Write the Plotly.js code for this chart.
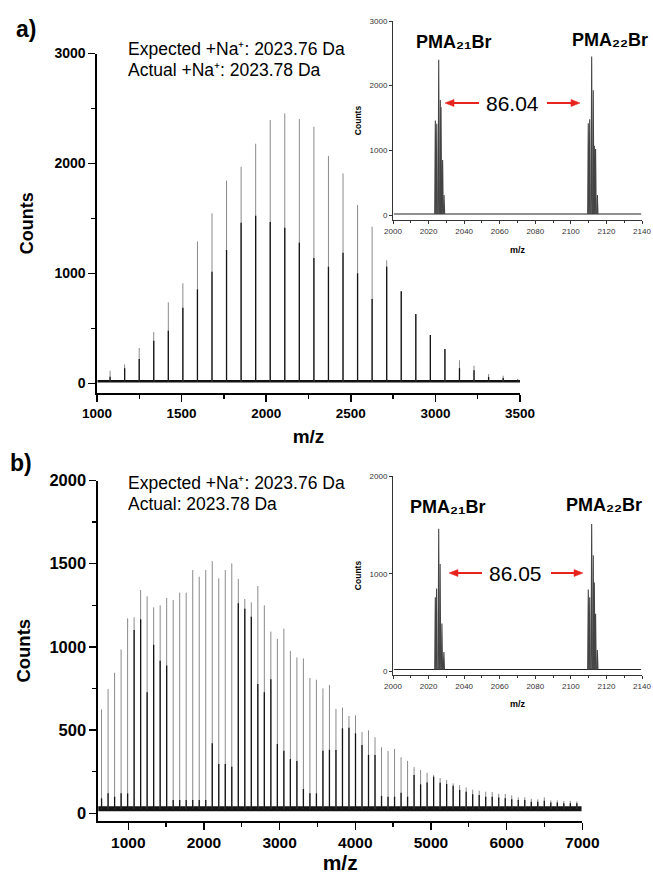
<!DOCTYPE html>
<html><head><meta charset="utf-8">
<script src="https://cdn.plot.ly/plotly-3.0.1.min.js"></script>
<style>html,body{margin:0;padding:0;background:#fff}#chart{width:653px;height:874px}</style>
</head><body><div id="chart"></div>
<script>
// ---------- Panel a: main spectrum (peak m/z, peak top counts, overlapped dark part) ----------
const massA = [1077.3,1163.4,1249.4,1335.4,1421.5,1507.5,1593.6,1679.6,1765.6,1851.7,1937.7,2023.8,2109.8,2195.8,2281.9,2367.9,2454.0,2540.0,2626.0,2712.1,2798.1,2884.2,2970.2,3056.2,3142.3,3228.3,3314.4,3400.4,3486.4];
const topA  = [116,174,323,468,738,911,1292,1547,1844,1971,2180,2395,2456,2404,2334,2068,1910,1623,1425,1120,838,632,441,314,211,162,86,71,40];
const darkA = [62,138,222,389,480,689,856,1017,1214,1462,1525,1468,1417,1280,1141,1062,1189,1002,768,1062,838,632,441,314,140,120,60,50,35];
const baseA_x = [1003, 3500];
const baseA_y = [20, 20];

// ---------- Panel a: inset (isotope clusters) ----------
const insetA_mz = [2023.8,2024.6,2025.7,2026.6,2027.0,2027.9,2028.7,2109.8,2110.6,2111.7,2112.6,2113.2,2113.9,2114.9];
const insetA_ct = [1460,1410,2400,1780,1670,850,310,1420,1480,2450,1930,1070,1020,310];
const insetBaseA_x = [2000.5, 2139.5];
const insetBaseA_y = [15, 15];

// ---------- Panel b: main spectrum ----------
const massB = [647.1,733.2,819.2,905.2,991.3,1077.3,1163.4,1249.4,1335.4,1421.5,1507.5,1593.6,1679.6,1765.6,1851.7,1937.7,2023.8,2109.8,2195.8,2281.9,2367.9,2454.0,2540.0,2626.0,2712.1,2798.1,2884.2,2970.2,3056.2,3142.3,3228.3,3314.4,3400.4,3486.4,3572.5,3658.5,3744.6,3830.6,3916.6,4002.7,4088.7,4174.8,4260.8,4346.8,4432.9,4518.9,4605.0,4691.0,4777.0,4863.1,4949.1,5035.2,5121.2,5207.2,5293.3,5379.3,5465.4,5551.4,5637.4,5723.5,5809.5,5895.6,5981.6,6067.6,6153.7,6239.7,6325.8,6411.8,6497.8,6583.9,6669.9,6756.0,6842.0,6928.0];
const topB = [625,747,845,985,1172,1178,1342,1304,1238,1250,1294,1282,1326,1326,1462,1422,1462,1516,1412,1462,1502,1408,1288,1268,1366,1250,1092,1048,1110,975,937,931,813,803,751,771,628,636,585,589,489,499,457,397,375,387,337,315,278,260,244,230,212,200,180,170,156,142,136,130,128,118,116,108,96,96,88,84,96,78,78,74,74,72];
const darkB = [90,120,100,120,120,1102,1166,727,1013,917,889,80,80,80,80,80,80,421,296,296,280,1262,1230,1182,777,727,805,417,376,326,314,146,120,120,376,382,380,511,515,481,411,351,351,104,100,100,124,100,230,174,186,220,184,176,166,140,130,114,110,100,100,95,90,85,80,80,70,70,75,65,65,60,60,60];
const baseB_x = [604, 6990];
const baseB_y = [28, 28];

// ---------- Panel b: inset ----------
const insetB_mz = [2023.8,2024.5,2025.7,2026.5,2027.5,2028.6,2109.8,2110.6,2111.7,2112.6,2113.2,2113.9,2114.9];
const insetB_ct = [760,850,1460,1100,490,200,840,760,1510,1190,910,590,220];
const insetBaseB_x = [2000.5, 2139.5];
const insetBaseB_y = [20, 20];

// ---------- helpers ----------
const W = 653, H = 874;
const X = p => p / W, Y = p => 1 - p / H;
const FONT = 'Liberation Sans, Arial, sans-serif';

function spikes(xs, ys, base) {
  const x = [], y = [];
  xs.forEach((m, i) => { x.push(m, m, null); y.push(base, ys[i], null); });
  return {x, y};
}
function tri(xs, ys, base, hw) {
  const x = [], y = [];
  xs.forEach((m, i) => { x.push(m - hw, m, m + hw, null); y.push(base, ys[i], base, null); });
  return {x, y};
}

const sA1 = spikes(massA, topA, 20), sA2 = spikes(massA, darkA, 20);
const sB1 = spikes(massB, topB, 28), sB2 = spikes(massB, darkB, 28);
const iA = tri(insetA_mz, insetA_ct, 15, 0.35);
const iB = tri(insetB_mz, insetB_ct, 20, 0.35);

const traces = [
  {x: baseA_x, y: baseA_y, xaxis: 'x', yaxis: 'y', mode: 'lines', line: {color: '#111', width: 2.5}, hoverinfo: 'skip'},
  {x: sA1.x, y: sA1.y, xaxis: 'x', yaxis: 'y', mode: 'lines', line: {color: '#8a8a8a', width: 1}, connectgaps: false},
  {x: sA2.x, y: sA2.y, xaxis: 'x', yaxis: 'y', mode: 'lines', line: {color: '#151515', width: 1.3}, connectgaps: false},
  {x: insetBaseA_x, y: insetBaseA_y, xaxis: 'x2', yaxis: 'y2', mode: 'lines', line: {color: '#222', width: 1.1}},
  {x: iA.x, y: iA.y, xaxis: 'x2', yaxis: 'y2', mode: 'lines', line: {color: '#444', width: 1.1}, connectgaps: false},
  {x: baseB_x, y: baseB_y, xaxis: 'x3', yaxis: 'y3', mode: 'lines', line: {color: '#151515', width: 5}},
  {x: sB1.x, y: sB1.y, xaxis: 'x3', yaxis: 'y3', mode: 'lines', line: {color: '#8a8a8a', width: 1}, connectgaps: false},
  {x: sB2.x, y: sB2.y, xaxis: 'x3', yaxis: 'y3', mode: 'lines', line: {color: '#151515', width: 1.3}, connectgaps: false},
  {x: insetBaseB_x, y: insetBaseB_y, xaxis: 'x4', yaxis: 'y4', mode: 'lines', line: {color: '#222', width: 1.1}},
  {x: iB.x, y: iB.y, xaxis: 'x4', yaxis: 'y4', mode: 'lines', line: {color: '#444', width: 1.1}, connectgaps: false}
];

function mainAxis(o) {
  return Object.assign({
    showline: true, linecolor: '#000', linewidth: 1.6, ticks: 'outside', ticklen: 7, tickwidth: 1.5, tickcolor: '#000',
    showgrid: false, zeroline: false, fixedrange: true,
    tickfont: {family: FONT, size: 14, color: '#000', weight: 700}
  }, o);
}
function insetAxis(o) {
  return Object.assign({
    showline: true, linecolor: '#333', linewidth: 1, ticks: 'outside', ticklen: 3, tickwidth: 1, tickcolor: '#333',
    showgrid: false, zeroline: false, fixedrange: true,
    tickfont: {family: FONT, size: 8, color: '#333'}
  }, o);
}

const layout = {
  width: W, height: H, margin: {l: 0, r: 0, t: 0, b: 0}, showlegend: false,
  paper_bgcolor: '#fff', plot_bgcolor: 'rgba(0,0,0,0)',
  font: {family: FONT, color: '#000'},
  xaxis: mainAxis({domain: [X(97), X(520)], range: [1000, 3500], anchor: 'y', tick0: 1000, dtick: 500,
    minor: {ticks: 'outside', ticklen: 4, dtick: 250, tickwidth: 1.3, tickcolor: '#000'},
    tickfont: {family: FONT, size: 13.5, color: '#000', weight: 700},
    title: {text: 'm/z', font: {family: FONT, size: 19, weight: 700}, standoff: 10}}),
  yaxis: mainAxis({domain: [Y(393), Y(53.5)], range: [-86, 3000], anchor: 'x', tick0: 0, dtick: 1000,
    minor: {ticks: 'outside', ticklen: 4, dtick: 500, tickwidth: 1.3, tickcolor: '#000'},
    title: {text: 'Counts', font: {family: FONT, size: 18, weight: 700}, standoff: 16}}),
  xaxis2: insetAxis({domain: [X(393), X(642)], range: [2000, 2140], anchor: 'y2', tick0: 2000, dtick: 20,
    minor: {ticks: 'outside', ticklen: 2, dtick: 10, tickcolor: '#333'},
    title: {text: 'm/z', font: {family: FONT, size: 9, weight: 700}, standoff: 12}}),
  yaxis2: insetAxis({domain: [Y(220), Y(21)], range: [-77, 3000], anchor: 'x2', tick0: 0, dtick: 1000,
    title: {text: 'Counts', font: {family: FONT, size: 8.5, weight: 700}, standoff: 6}}),
  xaxis3: mainAxis({domain: [X(98), X(582.3)], range: [600, 7000], anchor: 'y3', tick0: 0, dtick: 1000,
    minor: {ticks: 'outside', ticklen: 4, dtick: 500, tickwidth: 1.3, tickcolor: '#000'},
    tickfont: {family: FONT, size: 15.5, color: '#000', weight: 700},
    title: {text: 'm/z', font: {family: FONT, size: 21, weight: 700}, standoff: 12}}),
  yaxis3: mainAxis({domain: [Y(821), Y(480.5)], range: [-46, 2000], anchor: 'x3', tick0: 0, dtick: 500,
    minor: {ticks: 'outside', ticklen: 4, dtick: 250, tickwidth: 1.3, tickcolor: '#000'},
    tickfont: {family: FONT, size: 16.5, color: '#000', weight: 700},
    title: {text: 'Counts', font: {family: FONT, size: 18.5, weight: 700}, standoff: 14}}),
  xaxis4: insetAxis({domain: [X(393), X(642)], range: [2000, 2140], anchor: 'y4', tick0: 2000, dtick: 20,
    minor: {ticks: 'outside', ticklen: 2, dtick: 10, tickcolor: '#333'},
    title: {text: 'm/z', font: {family: FONT, size: 9, weight: 700}, standoff: 11}}),
  yaxis4: insetAxis({domain: [Y(675), Y(476)], range: [-36, 2000], anchor: 'x4', tick0: 0, dtick: 1000,
    title: {text: 'Counts', font: {family: FONT, size: 8.5, weight: 700}, standoff: 6}}),
  annotations: [],
  shapes: []
};

function txt(text, x, y, size, opts) {
  return Object.assign({xref: 'paper', yref: 'paper', x: X(x), y: Y(y), text: text, showarrow: false,
    xanchor: 'center', yanchor: 'middle', font: {family: FONT, size: size, color: '#000'}}, opts || {});
}
const RED = '#e8231e';
// arrow drawn as a line plus a filled triangular head, in pixel positions converted to paper
function arrowShapes(tailX, headX, y) {
  const dir = headX < tailX ? -1 : 1;
  const baseX = headX - dir * 9;
  return [
    {type: 'line', xref: 'paper', yref: 'paper', x0: X(tailX), y0: Y(y), x1: X(baseX), y1: Y(y),
      line: {color: RED, width: 2}},
    {type: 'path', xref: 'paper', yref: 'paper',
      path: `M ${X(headX)} ${Y(y)} L ${X(baseX)} ${Y(y - 3.5)} L ${X(baseX)} ${Y(y + 3.5)} Z`,
      fillcolor: RED, line: {color: RED, width: 0.5}}
  ];
}
const A = layout.annotations, S = layout.shapes;
A.push(txt('<b>a)</b>', 26, 29, 23));
A.push(txt('<b>b)</b>', 21, 463, 23));
A.push(txt('Expected +Na\u207A: 2023.76 Da', 126, 49, 17.5, {xanchor: 'left'}));
A.push(txt('Actual +Na\u207A: 2023.78 Da', 126, 70, 17.5, {xanchor: 'left'}));
A.push(txt('Expected +Na\u207A: 2023.76 Da', 126, 483, 17.5, {xanchor: 'left'}));
A.push(txt('Actual: 2023.78 Da', 126, 504, 17.5, {xanchor: 'left'}));
A.push(txt('<b>PMA\u2082\u2081Br</b>', 453, 42, 18));
A.push(txt('<b>PMA\u2082\u2082Br</b>', 610, 40, 18));
A.push(txt('86.04', 512, 103, 21));
A.push(txt('<b>PMA\u2082\u2081Br</b>', 447, 507, 18));
A.push(txt('<b>PMA\u2082\u2082Br</b>', 604, 505, 18));
A.push(txt('86.05', 515, 573, 21));
S.push(...arrowShapes(479, 445, 103), ...arrowShapes(547, 580, 103));
S.push(...arrowShapes(482, 449, 573), ...arrowShapes(551, 583, 573));

Plotly.newPlot('chart', traces, layout, {staticPlot: true, displayModeBar: false});
</script>
</body></html>
